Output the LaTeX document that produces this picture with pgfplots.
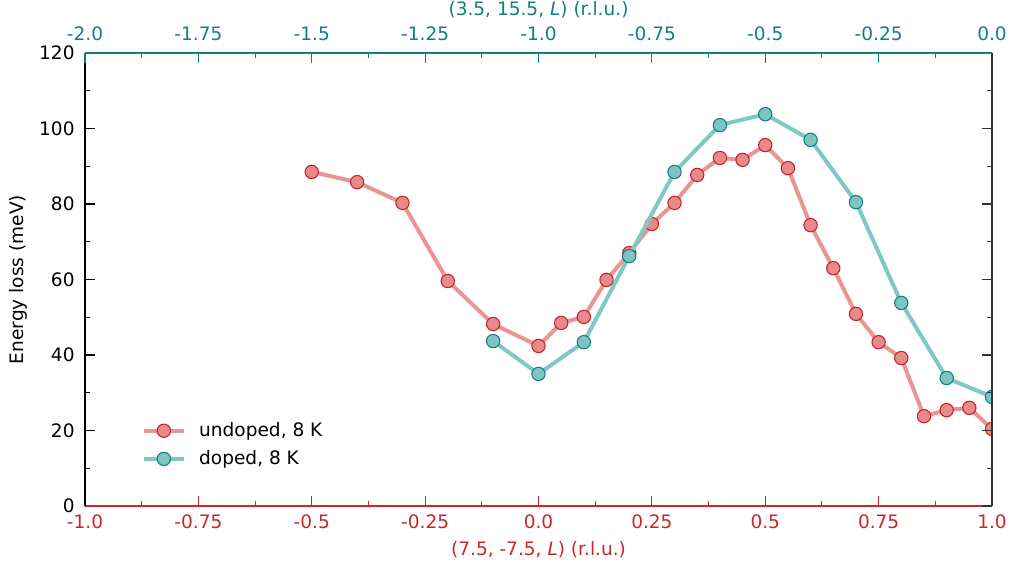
\documentclass[border=0pt]{standalone}
\usepackage{fontspec}
\setmainfont{DejaVu Sans}
\usepackage{pgfplots}
\pgfplotsset{compat=1.18}
\definecolor{axred}{RGB}{200,40,44}
\definecolor{axteal}{RGB}{18,128,128}
\definecolor{lred}{RGB}{236,148,148}
\definecolor{mred}{RGB}{232,138,139}
\definecolor{ered}{RGB}{196,34,40}
\definecolor{lteal}{RGB}{128,200,196}
\definecolor{mteal}{RGB}{124,197,193}
\definecolor{eteal}{RGB}{16,128,128}
\begin{document}
\fontsize{13.9}{16}\selectfont
\begin{tikzpicture}
\path[use as bounding box] (-63.75pt,-47.25pt) rectangle (698.25pt,379.5pt);
\pgfplotsset{
  common/.style={
    at={(0,0)}, anchor=south west, scale only axis,
    width=680.25pt, height=339.75pt,
    ymin=0, ymax=120,
    ytick={0,20,40,60,80,100,120}, minor y tick num=1,
    tick align=inside,
    major tick length=7.5pt, minor tick length=3.75pt,
    /pgf/number format/assume math mode=true,
    tick label style={font=\fontsize{13.9}{16}\selectfont},
    label style={font=\fontsize{13.9}{16}\selectfont},
  }
}
\begin{axis}[common,
  xmin=-1, xmax=1,
  axis x line*=bottom, axis y line*=left,
  x axis line style={-, axred, line width=0.9pt},
  y axis line style={-, black, line width=0.9pt},
  xtick={-1,-0.75,-0.5,-0.25,0,0.25,0.5,0.75,1},
  xticklabels={-1.0,-0.75,-0.5,-0.25,0.0,0.25,0.5,0.75,1.0},
  minor x tick num=1,
  x tick style={axred, line width=0.8pt},
  y tick style={black, line width=0.8pt},
  xticklabel style={text=axred, yshift=-2pt},
  yticklabel style={xshift=-3pt},
  xlabel={(7.5, -7.5, \textit{L}) (r.l.u.)},
  xlabel style={text=axred, at={(rel axis cs:0.5,-0.0971)}, anchor=center},
  ylabel={Energy loss (meV)},
  ylabel style={at={(rel axis cs:-0.0735,0.5)}, anchor=center},
  clip marker paths=true,
  legend style={at={(rel axis cs:0.058,0.073)}, anchor=south west, draw=none, fill=none,
    font=\fontsize{13.9}{16}\selectfont, row sep=4.5pt,
    nodes={inner xsep=10pt}},
  legend cell align=left,
  legend image code/.code={\draw[#1, mark repeat=2, mark phase=2] plot coordinates {(0pt,0pt) (15pt,0pt) (30pt,0pt)};},
]
\addplot[draw=lred, line width=3pt, line join=round, mark=*, mark size=5pt,
  mark options={fill=mred, draw=ered, line width=0.8pt}] coordinates {
(-0.5,88.5) (-0.4,85.8) (-0.3,80.3) (-0.2,59.6) (-0.1,48.2) (0.0,42.4)
(0.05,48.5) (0.1,50.1) (0.15,59.9) (0.2,67.0) (0.25,74.7) (0.3,80.3)
(0.35,87.7) (0.4,92.2) (0.45,91.7) (0.5,95.6) (0.55,89.5) (0.6,74.4)
(0.65,63.0) (0.7,50.9) (0.75,43.4) (0.8,39.2) (0.85,23.8) (0.9,25.4)
(0.95,26.0) (1.0,20.4)};
\addlegendentry{undoped, 8 K}
\addplot[draw=lteal, line width=3pt, line join=round, mark=*, mark size=5pt,
  mark options={fill=mteal, draw=eteal, line width=0.8pt}] coordinates {
(-0.1,43.7) (0.0,35.0) (0.1,43.4) (0.2,66.2) (0.3,88.5) (0.4,100.9)
(0.5,103.8) (0.6,97.0) (0.7,80.5) (0.8,53.8) (0.9,33.9) (1.0,28.9)};
\addlegendentry{doped, 8 K}
\end{axis}
\begin{axis}[common,
  xmin=-2, xmax=0,
  axis x line*=top, axis y line*=right,
  x axis line style={-, axteal, line width=0.9pt},
  y axis line style={-, black!80, line width=0.9pt},
  xtick={-2,-1.75,-1.5,-1.25,-1,-0.75,-0.5,-0.25,0},
  xticklabels={-2.0,-1.75,-1.5,-1.25,-1.0,-0.75,-0.5,-0.25,0.0},
  minor x tick num=1,
  yticklabels={},
  x tick style={axteal, line width=0.8pt},
  y tick style={black!80, line width=0.8pt},
  xticklabel style={text=axteal, yshift=4.5pt},
  xlabel={(3.5, 15.5, \textit{L}) (r.l.u.)},
  xlabel style={text=axteal, at={(rel axis cs:0.5,1.095)}, anchor=center},
]
\end{axis}
\end{tikzpicture}
\end{document}
